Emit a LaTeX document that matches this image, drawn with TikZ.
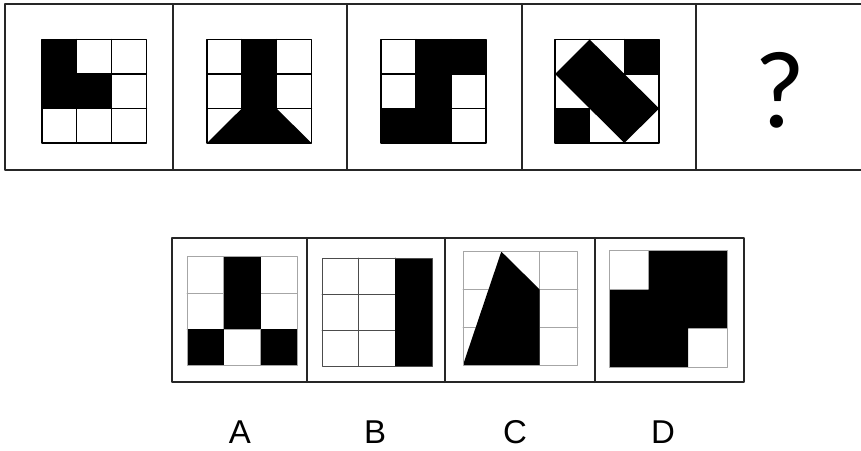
\documentclass[tikz,border=0pt]{standalone}
\usepackage{fontspec}
\setmainfont{Liberation Sans}
\newfontfamily\qfont{Carlito}
\tikzset{
  frame/.style={line width=2pt, black!85},
  cellline/.style={line width=1.3pt, black},
  paleline/.style={line width=1pt, black!35},
  thinline/.style={line width=0.9pt, black!70},
  optlabel/.style={font=\fontsize{33}{33}\selectfont, inner sep=0pt}
}
\begin{document}
\begin{tikzpicture}[line cap=round,line join=round,x=1pt,y=1pt]
        \useasboundingbox (0,0) rectangle (861,450);
        % upper row of frames, open on the right
        \draw[frame, line cap=butt] (861,446) -- (5,446) -- (5,280) -- (861,280);
        \draw[frame] (173,446) -- (173,280);
        \draw[frame] (347,446) -- (347,280);
        \draw[frame] (522,446) -- (522,280);
        \draw[frame] (696,446) -- (696,280);

        % figure 1
        \begin{scope}[shift={(42,307)}, x=34.8pt, y=34.5pt]
            \foreach \i in {1,2} {
                \draw[cellline] (\i,0) -- (\i,3);
                \draw[cellline] (0,\i) -- (3,\i);
            }
            \fill (0,1) rectangle (1,3);
            \fill (1,1) rectangle (2,2);
            \draw[cellline] (0,0) rectangle (3,3);
        \end{scope}

        % figure 2
        \begin{scope}[shift={(207,307)}, x=34.8pt, y=34.5pt]
            \foreach \i in {1,2} {
                \draw[cellline] (\i,0) -- (\i,3);
                \draw[cellline] (0,\i) -- (3,\i);
            }
            \fill (1,1) rectangle (2,3);
            \fill (0,0) -- (1,1) -- (2,1) -- (3,0) -- cycle;
            \draw[cellline] (0,0) rectangle (3,3);
        \end{scope}

        % figure 3
        \begin{scope}[shift={(381,307)}, x=35pt, y=34.5pt]
            \foreach \i in {1,2} {
                \draw[cellline] (\i,0) -- (\i,3);
                \draw[cellline] (0,\i) -- (3,\i);
            }
            \fill (1,0) rectangle (2,3);
            \fill (2,2) rectangle (3,3);
            \fill (0,0) rectangle (1,1);
            \draw[cellline] (0,0) rectangle (3,3);
        \end{scope}

        % figure 4
        \begin{scope}[shift={(555,307)}, x=34.7pt, y=34.5pt]
            \foreach \i in {1,2} {
                \draw[cellline] (\i,0) -- (\i,3);
                \draw[cellline] (0,\i) -- (3,\i);
            }
            \fill (2,2) rectangle (3,3);
            \fill (0,0) rectangle (1,1);
            \fill (1,3) -- (0,2) -- (2,0) -- (3,1) -- cycle;
            \draw[cellline] (0,0) rectangle (3,3);
        \end{scope}

        \node[font=\qfont\fontsize{110}{110}\selectfont, inner sep=0pt] (unknown) at (780,360) {?};

        % lower row of frames
        \draw[frame] (172,68) rectangle (744,212);
        \draw[frame] (307,68) -- (307,212);
        \draw[frame] (445,68) -- (445,212);
        \draw[frame] (595,68) -- (595,212);

        % option A
        \begin{scope}[shift={(187,85)}, x=36.8pt, y=36pt]
            \foreach \i in {1,2} {
                \draw[paleline] (\i,0) -- (\i,3);
                \draw[paleline] (0,\i) -- (3,\i);
            }
            \fill (1,1) rectangle (2,3);
            \fill (0,0) rectangle (1,1);
            \fill (2,0) rectangle (3,1);
            \draw[paleline] (0,0) rectangle (3,3);
        \end{scope}

        % option B
        \begin{scope}[shift={(322,84)}, x=36.7pt, y=36pt]
            \foreach \i in {1,2} {
                \draw[thinline] (\i,0) -- (\i,3);
                \draw[thinline] (0,\i) -- (3,\i);
            }
            \fill (2,0) rectangle (3,3);
            \draw[thinline] (0,0) rectangle (3,3);
        \end{scope}

        % option C
        \begin{scope}[shift={(463,85)}, x=38.3pt, y=37.8pt]
            \foreach \i in {1,2} {
                \draw[paleline] (\i,0) -- (\i,3);
                \draw[paleline] (0,\i) -- (3,\i);
            }
            \fill (0,0) -- (1,3) -- (2,2) -- (2,0) -- cycle;
            \draw[paleline] (0,0) rectangle (3,3);
        \end{scope}

        % option D
        \begin{scope}[shift={(609,83)}, x=39.6pt, y=38.7pt]
            \fill (0,0) -- (2,0) -- (2,1) -- (3,1) -- (3,3) -- (1,3) -- (1,2) -- (0,2) -- cycle;
            \draw[paleline] (0,0) rectangle (3,3);
        \end{scope}

        \node[optlabel] (optA) at (240,18) {A};
        \node[optlabel] (optB) at (375,18) {B};
        \node[optlabel] (optC) at (515,18) {C};
        \node[optlabel] (optD) at (663,18) {D};
    \end{tikzpicture}
\end{document}
